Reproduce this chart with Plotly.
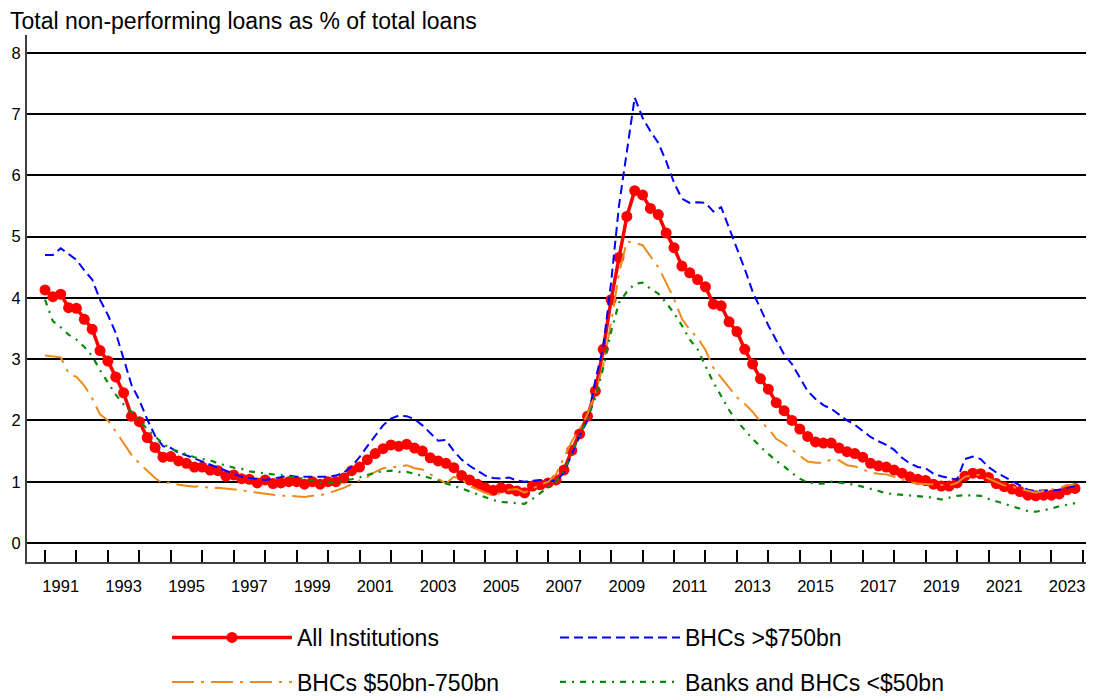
import plotly.graph_objects as go

years = list(range(1991, 2024))
quarters = [1, 2, 3, 4]

all_institutions = [
    4.13, 4.02, 4.06, 3.84, 3.83, 3.65, 3.49, 3.14, 2.97, 2.71, 2.45, 2.07, 1.98, 1.72, 1.56, 1.40, 1.41,
    1.34, 1.30, 1.24, 1.24, 1.19, 1.18, 1.09, 1.11, 1.05, 1.04, 0.98, 1.03, 0.97, 0.98, 1.00, 1.00, 0.96,
    1.00, 0.96, 1.00, 1.00, 1.06, 1.18, 1.24, 1.36, 1.46, 1.54, 1.60, 1.58, 1.61, 1.55, 1.50, 1.39,
    1.34, 1.30, 1.23, 1.10, 1.03, 0.96, 0.90, 0.86, 0.90, 0.88, 0.85, 0.82, 0.93, 0.95, 0.98, 1.03,
    1.19, 1.51, 1.78, 2.07, 2.48, 3.16, 3.97, 4.66, 5.33, 5.75, 5.68, 5.46, 5.36, 5.06, 4.82, 4.52,
    4.41, 4.30, 4.18, 3.90, 3.87, 3.61, 3.45, 3.16, 2.92, 2.68, 2.51, 2.29, 2.16, 2.00, 1.86, 1.74,
    1.65, 1.63, 1.63,
    1.55, 1.49, 1.46, 1.40, 1.30, 1.26, 1.24, 1.19, 1.14, 1.08, 1.04, 1.02, 0.96, 0.93, 0.93, 0.98,
    1.09, 1.14, 1.13, 1.07, 0.97, 0.92, 0.88, 0.84, 0.78, 0.77, 0.78, 0.78, 0.80, 0.87, 0.89,
]

bhc_large = [
    4.70, 4.70, 4.81, 4.72, 4.62, 4.45, 4.30, 3.97, 3.72, 3.43, 3.02, 2.58, 2.33, 2.02, 1.75, 1.58, 1.55,
    1.47, 1.43, 1.38, 1.33, 1.28, 1.22, 1.17, 1.12, 1.08, 1.06, 1.04, 1.03, 1.05, 1.07, 1.10, 1.08,
    1.08, 1.08, 1.07, 1.08, 1.10, 1.15, 1.25, 1.40, 1.58, 1.76, 1.92, 2.03, 2.08, 2.07, 2.02, 1.92,
    1.80, 1.67, 1.68, 1.50, 1.36, 1.26, 1.18, 1.10, 1.06, 1.05, 1.07, 1.02, 1.00, 1.02, 1.03, 1.03,
    1.00, 1.15, 1.45,
    1.75, 2.00, 2.66, 3.20, 4.25, 5.50, 6.35, 7.27, 6.94, 6.72, 6.53, 6.23, 5.88, 5.62, 5.55, 5.56,
    5.55, 5.41, 5.48, 5.15, 4.82, 4.47, 4.10, 3.81, 3.55, 3.31, 3.08, 2.92, 2.70, 2.48, 2.35, 2.25, 2.19,
    2.10, 2.00, 1.93, 1.83, 1.73, 1.66, 1.60, 1.52, 1.39, 1.30, 1.24, 1.22, 1.13, 1.09, 1.06, 1.03,
    1.37, 1.41, 1.37, 1.24, 1.15, 1.08, 1.02, 0.94, 0.87, 0.85, 0.86, 0.87, 0.87, 0.90, 0.93,
]

bhc_mid = [
    3.06, 3.05, 3.03, 2.77, 2.71, 2.57, 2.36, 2.10, 2.00, 1.82, 1.63, 1.44, 1.30, 1.18, 1.06, 0.97, 0.99,
    0.95, 0.93, 0.92, 0.93, 0.89, 0.90, 0.89, 0.88, 0.86, 0.84, 0.82, 0.80, 0.78, 0.77, 0.77, 0.76, 0.75,
    0.77, 0.78, 0.81, 0.85, 0.90, 0.96, 1.02, 1.08, 1.16, 1.22, 1.24, 1.24, 1.27, 1.22, 1.20, 1.12,
    1.05, 0.97, 1.08, 1.04, 0.93, 0.87, 0.82, 0.77, 0.82, 0.87, 0.88, 0.82, 0.89, 0.94, 1.00, 1.12,
    1.38, 1.66, 1.86, 2.10, 2.44, 2.90, 3.60, 4.40, 4.92, 4.90, 4.86, 4.67, 4.50, 4.25, 3.98, 3.66,
    3.48, 3.35, 3.15, 2.86, 2.70, 2.53, 2.38, 2.27, 2.14, 1.98, 1.87, 1.70, 1.62, 1.52, 1.42, 1.33,
    1.31, 1.31, 1.36,
    1.35, 1.27, 1.25, 1.20, 1.15, 1.13, 1.12, 1.08, 1.03, 0.99, 0.97, 0.96, 0.95, 0.94, 0.94, 0.98,
    1.08, 1.11, 1.11, 1.05, 0.99, 0.94, 0.92, 0.89, 0.85, 0.82, 0.85, 0.87, 0.90, 0.94, 0.96,
]

small_banks = [
    3.97, 3.62, 3.52, 3.40, 3.32, 3.20, 3.05, 2.82, 2.62, 2.42, 2.26, 2.14, 2.00, 1.86, 1.74, 1.62, 1.54,
    1.49, 1.44, 1.40, 1.37, 1.35, 1.30, 1.26, 1.23, 1.21, 1.17, 1.15, 1.13, 1.12, 1.11, 1.08, 1.07, 1.05,
    1.02, 0.99, 0.98, 0.99, 1.01, 1.04, 1.07, 1.11, 1.15, 1.17, 1.18, 1.16, 1.16, 1.13, 1.10, 1.06,
    1.02, 0.97, 0.93, 0.89, 0.84, 0.79, 0.74, 0.70, 0.67, 0.66, 0.64, 0.64, 0.72, 0.82, 0.91, 1.00, 1.18,
    1.45, 1.77, 2.03, 2.37, 2.86, 3.45, 3.92, 4.10, 4.23, 4.25, 4.15, 4.07, 3.92, 3.75, 3.55, 3.32,
    3.16, 2.88, 2.62, 2.40, 2.17, 1.99, 1.84, 1.70, 1.57, 1.45, 1.34, 1.25, 1.14, 1.05, 0.99, 0.97,
    0.97, 1.00,
    0.99, 0.97, 0.95, 0.92, 0.88, 0.85, 0.81, 0.80, 0.78, 0.77, 0.76, 0.75, 0.74, 0.71, 0.74, 0.77,
    0.78, 0.78, 0.77, 0.72, 0.68, 0.63, 0.59, 0.55, 0.52, 0.51, 0.53, 0.56, 0.60, 0.63, 0.65,
]

y_ticks = [0, 1, 2, 3, 4, 5, 6, 7, 8]
label_years = list(range(1991, 2024, 2))
boundary_years = list(range(1991, 2025))

# quarterly positions on a continuous year scale
x = [y + (q - 1) / 4 for y in years for q in quarters]

FONT = "Liberation Sans, Arial, sans-serif"

fig = go.Figure()
fig.add_trace(go.Scatter(
    x=x, y=all_institutions, name="All Institutions", mode="lines+markers",
    line=dict(color="#FF0000", width=3.5), marker=dict(color="#FF0000", size=11),
    legend="legend",
))
fig.add_trace(go.Scatter(
    x=x, y=bhc_large, name="BHCs >$750bn", mode="lines",
    line=dict(color="#0000FF", width=2, dash="9px,5px"), legend="legend",
))
fig.add_trace(go.Scatter(
    x=x, y=bhc_mid, name="BHCs $50bn-750bn", mode="lines",
    line=dict(color="#EE8A1A", width=2, dash="22px,7px,3px,7px"), legend="legend2",
))
fig.add_trace(go.Scatter(
    x=x, y=small_banks, name="Banks and BHCs <$50bn", mode="lines",
    line=dict(color="#0A8A0A", width=2.2, dash="6px,6px,2px,6px"), legend="legend2",
))

legend_common = dict(
    orientation="h", xanchor="left", yanchor="top", x=0.1475,
    xref="container", yref="container",
    font=dict(family=FONT, size=23, color="#000"),
    itemwidth=120, entrywidth=253, bgcolor="rgba(0,0,0,0)", traceorder="normal",
)

fig.update_layout(
    width=1078, height=688,
    margin=dict(l=19, r=0, t=27, b=134, autoexpand=False),
    paper_bgcolor="white", plot_bgcolor="white",
    font=dict(family=FONT, color="#000"),
    title=dict(
        text="Total non-performing loans as % of total loans",
        x=0.0019, xanchor="left", xref="container",
        y=0.9818, yanchor="middle", yref="container",
        font=dict(family=FONT, size=23, color="#000"),
    ),
    showlegend=True,
    legend=dict(legend_common, y=0.1163),
    legend2=dict(legend_common, y=0.0516),
    xaxis=dict(
        range=[1990.4277, 2024.1], automargin=False,
        tickmode="array",
        tickvals=[yr + 0.5 for yr in label_years],
        ticktext=[str(yr) for yr in label_years],
        ticks="", showgrid=False, zeroline=False,
        showline=True, linecolor="#404040", linewidth=2,
        tickfont=dict(family=FONT, size=16.5, color="#000"),
        ticklabelstandoff=8, ticklabeloverflow="allow",
        minor=dict(tickmode="array", tickvals=boundary_years, ticks="inside",
                   ticklen=12, tickwidth=1.5, tickcolor="#000", showgrid=False),
    ),
    yaxis=dict(
        range=[-0.31, 8.29], automargin=False,
        tickmode="array", tickvals=y_ticks, ticktext=[str(v) for v in y_ticks],
        ticks="", showgrid=True, gridcolor="#000", gridwidth=1.5, zeroline=False,
        showline=True, linecolor="#404040", linewidth=2,
        tickfont=dict(family=FONT, size=16.5, color="#000"),
        ticklabelstandoff=1, ticklabeloverflow="allow",
    ),
)

fig.write_html("out.html")
